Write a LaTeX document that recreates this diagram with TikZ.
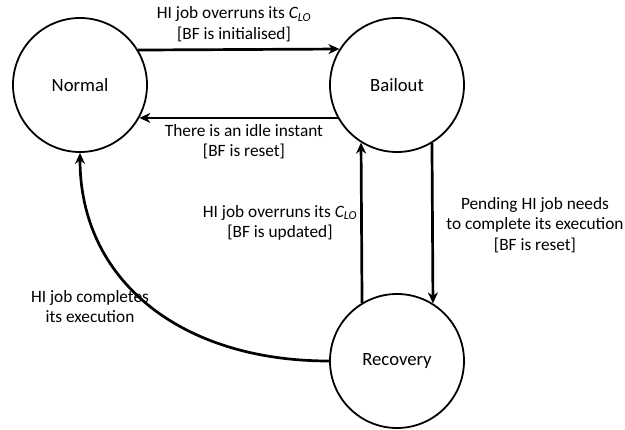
\documentclass[tikz,border=0pt]{standalone}
\usepackage{fontspec}
\setmainfont{Carlito}
\usetikzlibrary{arrows.meta}
\newcommand{\clo}{{\itshape C}\textsubscript{\itshape LO}}
\tikzset{
  state/.style={circle, draw, line width=1.8pt, minimum size=134pt, inner sep=0pt,
    font=\fontsize{18.7}{22}\selectfont},
  trans/.style={line width=2.7pt, -{Stealth[length=11pt, width=10pt, inset=3.5pt]}},
  lbl/.style={align=center, inner sep=0pt, font=\fontsize{17.3}{20.5}\selectfont}
}
\begin{document}
\begin{tikzpicture}[x=1pt, y=-1pt]
  \useasboundingbox (0,0) rectangle (625,430);

  % states
  \node[state] (normal)   at (80,85)   {Normal};
  \node[state] (bailout)  at (397,85)  {Bailout};
  \node[state] (recovery) at (397,361) {Recovery};

  % transitions
  \draw[trans] (normal.31.5) -- (bailout.148.5);
  \draw[trans] (bailout.209.5) -- (normal.-29.5);
  \draw[trans] (recovery.121.5) -- (bailout.238.5);
  \draw[trans] (bailout.301.5) -- (recovery.58.5);
  \draw[trans] (recovery.west) .. controls (180,361) and (80,280) .. (normal.south);

  % transition labels
  \node[lbl] (l1) at (234,24)    {HI job overruns its \clo\\{}[BF is initialised]};
  \node[lbl] (l2) at (244,141.5) {There is an idle instant\\{}[BF is reset]};
  \node[lbl] (l3) at (280,223)   {HI job overruns its \clo\\{}[BF is updated]};
  \node[lbl] (l4) at (535,225)   {Pending HI job needs\\to complete its execution\\{}[BF is reset]};
  \node[lbl] (l5) at (90,306.5)  {HI job completes\\its execution};
\end{tikzpicture}
\end{document}
